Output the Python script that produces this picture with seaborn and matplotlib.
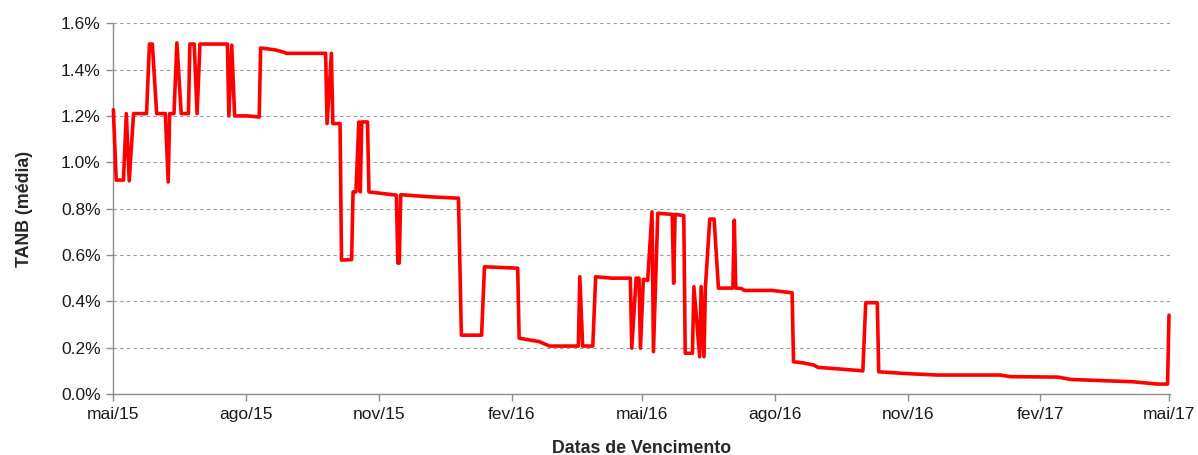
import pandas as pd
import seaborn as sns
import matplotlib.pyplot as plt
from matplotlib.ticker import FuncFormatter

# TANB (%) by maturity date
dates = [
    "2015-05-01", "2015-05-03", "2015-05-08", "2015-05-10", "2015-05-12", "2015-05-15",
    "2015-05-24", "2015-05-26", "2015-05-28", "2015-05-31", "2015-06-06", "2015-06-08",
    "2015-06-09", "2015-06-12", "2015-06-14", "2015-06-17", "2015-06-22", "2015-06-23",
    "2015-06-26", "2015-06-28", "2015-06-30", "2015-07-11", "2015-07-19", "2015-07-20",
    "2015-07-22", "2015-07-24", "2015-08-02", "2015-08-10", "2015-08-11", "2015-08-21",
    "2015-08-27", "2015-08-29", "2015-09-25", "2015-09-26", "2015-09-29", "2015-09-30",
    "2015-10-05", "2015-10-06", "2015-10-13", "2015-10-14", "2015-10-16", "2015-10-18",
    "2015-10-19", "2015-10-20", "2015-10-24", "2015-10-25", "2015-11-13", "2015-11-14",
    "2015-11-15", "2015-11-16", "2015-12-06", "2015-12-26", "2015-12-28", "2016-01-11",
    "2016-01-13", "2016-02-05", "2016-02-06", "2016-02-20", "2016-02-27", "2016-03-18",
    "2016-03-19", "2016-03-21", "2016-03-28", "2016-03-30", "2016-04-10", "2016-04-23",
    "2016-04-24", "2016-04-27", "2016-04-29", "2016-04-30", "2016-05-02", "2016-05-05",
    "2016-05-08", "2016-05-09", "2016-05-12", "2016-05-22", "2016-05-23", "2016-05-24",
    "2016-05-30", "2016-05-31", "2016-06-05", "2016-06-06", "2016-06-10", "2016-06-11",
    "2016-06-13", "2016-06-14", "2016-06-17", "2016-06-20", "2016-06-23", "2016-07-03",
    "2016-07-04", "2016-07-05", "2016-07-09", "2016-07-11", "2016-07-30", "2016-08-13",
    "2016-08-14", "2016-08-21", "2016-08-28", "2016-08-31", "2016-09-15", "2016-10-01",
    "2016-10-03", "2016-10-11", "2016-10-12", "2016-10-29", "2016-11-21", "2017-01-04",
    "2017-01-11", "2017-02-13", "2017-02-22", "2017-03-19", "2017-04-06", "2017-04-23",
    "2017-04-30", "2017-05-01",
]
tanb = [
    1.227, 0.923, 0.923, 1.21, 0.92, 1.21,
    1.21, 1.51, 1.51, 1.21, 1.21, 0.915,
    1.21, 1.21, 1.515, 1.21, 1.21, 1.51,
    1.51, 1.21, 1.51, 1.51, 1.51, 1.20,
    1.505, 1.20, 1.20, 1.195, 1.493, 1.485,
    1.475, 1.47, 1.47, 1.167, 1.47, 1.167,
    1.167, 0.578, 0.58, 0.872, 0.872, 1.174,
    0.872, 1.174, 1.174, 0.872, 0.858, 0.565,
    0.565, 0.86, 0.851, 0.845, 0.254, 0.254,
    0.549, 0.543, 0.241, 0.226, 0.207, 0.207,
    0.506, 0.207, 0.207, 0.506, 0.50, 0.50,
    0.198, 0.50, 0.50, 0.198, 0.495, 0.49,
    0.786, 0.183, 0.78, 0.775, 0.478, 0.775,
    0.77, 0.176, 0.176, 0.463, 0.161, 0.463,
    0.161, 0.463, 0.755, 0.755, 0.457, 0.457,
    0.75, 0.457, 0.455, 0.447, 0.447, 0.437,
    0.139, 0.134, 0.125, 0.115, 0.108, 0.100,
    0.394, 0.394, 0.096, 0.089, 0.082, 0.082,
    0.075, 0.073, 0.063, 0.057, 0.053, 0.043,
    0.043, 0.34,
]

tick_dates = ["2015-05-01", "2015-08-01", "2015-11-01", "2016-02-01", "2016-05-01",
              "2016-08-01", "2016-11-01", "2017-02-01", "2017-05-01"]
tick_labels = ["mai/15", "ago/15", "nov/15", "fev/16", "mai/16",
               "ago/16", "nov/16", "fev/17", "mai/17"]
y_ticks = [0.0, 0.2, 0.4, 0.6, 0.8, 1.0, 1.2, 1.4, 1.6]

df = pd.DataFrame({"vencimento": pd.to_datetime(dates), "tanb": tanb})

sns.set_theme(style="white")
plt.rcParams['font.family'] = ['Liberation Sans', 'DejaVu Sans']

fig, ax = plt.subplots(figsize=(11.98, 4.55), dpi=100)
fig.subplots_adjust(left=0.094, right=0.977, top=0.949, bottom=0.134)

sns.lineplot(data=df, x="vencimento", y="tanb", ax=ax, color="#ff0000",
             linewidth=2.6, estimator=None, sort=False, zorder=5, clip_on=False)

ax.set_xlim(pd.Timestamp("2015-04-30 12:00"), pd.Timestamp("2017-05-02"))
ax.set_ylim(0, 1.6)
ax.set_yticks(y_ticks)
ax.yaxis.set_major_formatter(FuncFormatter(lambda v, _: f"{v:.1f}%"))
ax.set_xticks(pd.to_datetime(tick_dates))
ax.set_xticklabels(tick_labels)

# dashed horizontal grid
for y in y_ticks[1:]:
    ax.axhline(y, color="#9a9a9a", linestyle=(0, (3, 3)), linewidth=0.8, zorder=0)

for side in ["top", "right"]:
    ax.spines[side].set_visible(False)
for side in ["left", "bottom"]:
    ax.spines[side].set_color("#8c8c8c")
    ax.spines[side].set_linewidth(1.0)

ax.tick_params(axis="both", which="major", direction="out", length=5, width=1.0,
               color="#8c8c8c", labelsize=12.5, labelcolor="#1a1a1a",
               bottom=True, left=True)
ax.tick_params(axis="x", pad=4)

ax.set_xlabel("Datas de Vencimento", fontsize=12.8, fontweight="bold", labelpad=13)
ax.set_ylabel("TANB (média)", fontsize=12.8, fontweight="bold", labelpad=20)

plt.savefig("out.png", dpi=100)
